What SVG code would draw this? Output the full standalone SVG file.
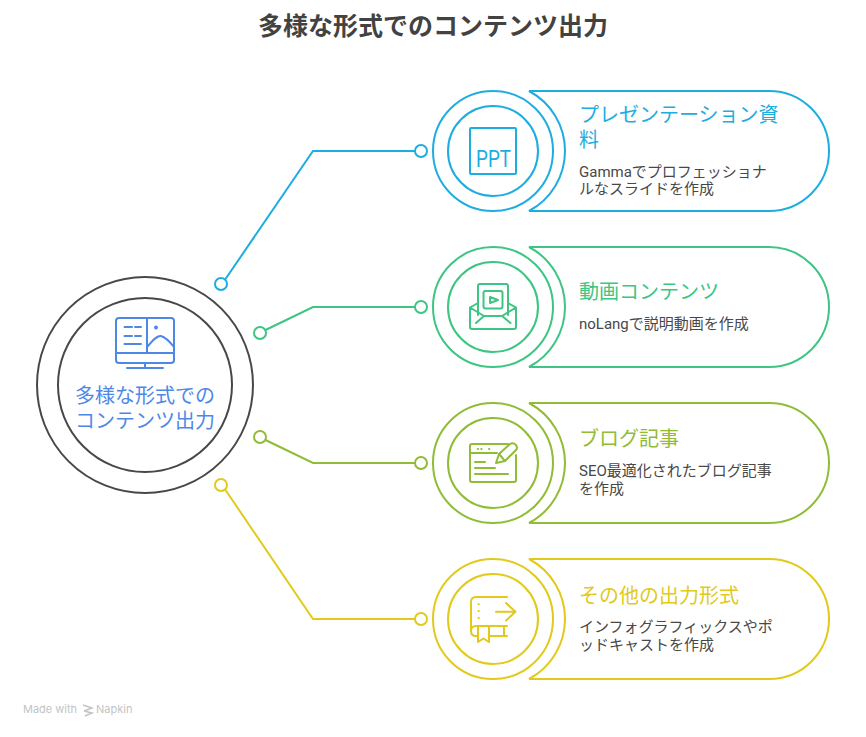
<svg xmlns="http://www.w3.org/2000/svg" width="866" height="737" viewBox="0 0 866 737">
<style>
text{font-family:Roboto,"Noto Sans CJK JP",sans-serif}
.title{font-size:25px;font-weight:700;fill:#424242;text-anchor:middle}
.h{font-size:20px}
.b{font-size:15px;fill:#484848}
.c{font-size:20px;fill:#4e88e7;text-anchor:middle}
.s{fill:none;stroke-width:2}
.i{fill:none;stroke-width:2;stroke-linecap:round;stroke-linejoin:round}
.blue{stroke:#1eade0}.green{stroke:#3cc583}.lime{stroke:#90bc36}.yellow{stroke:#e1ca1b}.cen{stroke:#4e88e7}
.tb{fill:#1eade0}.tg{fill:#3cc583}.tl{fill:#90bc36}.ty{fill:#e1ca1b}
</style>
<defs>
<path id="pill" d="M529,-60H769A60,60 0 0 1 769,60H529A68,68 0 0 0 529,-60Z"/>
</defs>
<text class="title" x="433" y="35">多様な形式でのコンテンツ出力</text>
<g id="connectors">
<path class="s blue" d="M225.500,279 313,151H415"/><circle class="s blue" cx="221" cy="284" r="6"/><circle class="s blue" cx="421" cy="151" r="6"/>
<path class="s green" d="M265.500,330 313,307H415"/><circle class="s green" cx="260" cy="333" r="6"/><circle class="s green" cx="421" cy="307" r="6"/>
<path class="s lime" d="M265.500,440 313,463H415"/><circle class="s lime" cx="260" cy="437" r="6"/><circle class="s lime" cx="421" cy="463" r="6"/>
<path class="s yellow" d="M225.500,490 313,619H415"/><circle class="s yellow" cx="221" cy="485" r="6"/><circle class="s yellow" cx="421" cy="619" r="6"/>
</g>
<g id="center">
<circle cx="145" cy="385" r="108" fill="none" stroke="#484848" stroke-width="2"/>
<circle cx="145" cy="385" r="87" fill="none" stroke="#484848" stroke-width="2"/>
<g class="i cen">
<rect x="116" y="318" width="58" height="45" rx="3"/>
<path d="M116,353H174M147,318V353M145,363V368M127,368H163M124.500,327H132M135,327H141M124.500,336H132M135,336H141M124.500,344H141M147,347C152,341 157,335 161,336C165,337 170,342 174,347"/>
<circle cx="156" cy="327.500" r="1" fill="#4e88e7"/>
</g>
<text class="c" x="145" y="403">多様な形式での</text>
<text class="c" x="145" y="428">コンテンツ出力</text>
</g>
<g id="node-ppt">
<use href="#pill" y="151" class="s blue"/>
<circle class="s blue" cx="493" cy="151" r="60"/><circle class="s blue" cx="493" cy="151" r="45"/>
<rect class="i blue" x="470" y="128" width="46" height="46" rx="1"/>
<text x="476" y="167" font-size="23" textLength="35" lengthAdjust="spacingAndGlyphs" class="tb">PPT</text>
<text class="h tb" x="579" y="122">プレゼンテーション資</text>
<text class="h tb" x="579" y="147">料</text>
<text class="b" x="579" y="177">Gammaでプロフェッショナ</text>
<text class="b" x="579" y="194">ルなスライドを作成</text>
</g>
<g id="node-video">
<use href="#pill" y="307" class="s green"/>
<circle class="s green" cx="493" cy="307" r="60"/><circle class="s green" cx="493" cy="307" r="45"/>
<g class="i green">
<path d="M478,315V286Q478,284 480,284H506Q508,284 508,286V315"/>
<rect x="483.500" y="291" width="19" height="17.500" rx="2"/>
<path d="M490,297L498,300L490,303Z"/>
<path d="M478,303L470,307.500V327Q470,329 472,329H514Q516,329 516,327V307.500L508,303M470,307.500L484,316H502L516,307.500M484,316L476,323M502,316L510.500,323"/>
</g>
<text class="h tg" x="579" y="299">動画コンテンツ</text>
<text class="b" x="579" y="329">noLangで説明動画を作成</text>
</g>
<g id="node-blog">
<use href="#pill" y="463" class="s lime"/>
<circle class="s lime" cx="493" cy="463" r="60"/><circle class="s lime" cx="493" cy="463" r="45"/>
<g class="i lime">
<path d="M508,444H472Q470,444 470,446V480Q470,482 472,482H514Q516,482 516,480V455M470,453H497M475,462H485M475,468H495M475,474H508"/>
<path d="M496,463L499,454L510,444Q513,442 516,445Q518,448 516,450L505,461Z"/>
<path d="M499,454L505,461"/>
<path d="M477.700,449H478M481.300,449H481.600M489,449H489.300"/>
</g>
<text class="h tl" x="579" y="446">ブログ記事</text>
<text class="b" x="579" y="476">SEO最適化されたブログ記事</text>
<text class="b" x="579" y="494">を作成</text>
</g>
<g id="node-other">
<use href="#pill" y="619" class="s yellow"/>
<circle class="s yellow" cx="493" cy="619" r="60"/><circle class="s yellow" cx="493" cy="619" r="45"/>
<g class="i yellow">
<path d="M507,597H476Q471,597 471,602V631Q471,636 476,636H478M489,636H507M471,631Q471,626 476,626H507M504,626V636"/>
<path d="M478,626V642L483.500,638.500L489,642V626"/>
<path d="M478.500,604.300H478.800M478.500,611H478.800M478.500,618H478.800M496,611.700H515.500M506,603L515.500,611.700L506,620.500"/>
</g>
<text class="h ty" x="579" y="603">その他の出力形式</text>
<text class="b" x="579" y="632">インフォグラフィックスやポ</text>
<text class="b" x="579" y="650">ッドキャストを作成</text>
</g>
<g id="footer">
<text x="23" y="713" font-size="11" style="font-family:Inter,Roboto,sans-serif" fill="#c4c4c4">Made with</text>
<path d="M83,705L92,708L84,711M84,711L92,713L85,716" fill="none" stroke="#c4c4c4" stroke-width="1.500"/>
<text x="96" y="713" font-size="11" style="font-family:Inter,Roboto,sans-serif" fill="#c4c4c4">Napkin</text>
</g>
</svg>
